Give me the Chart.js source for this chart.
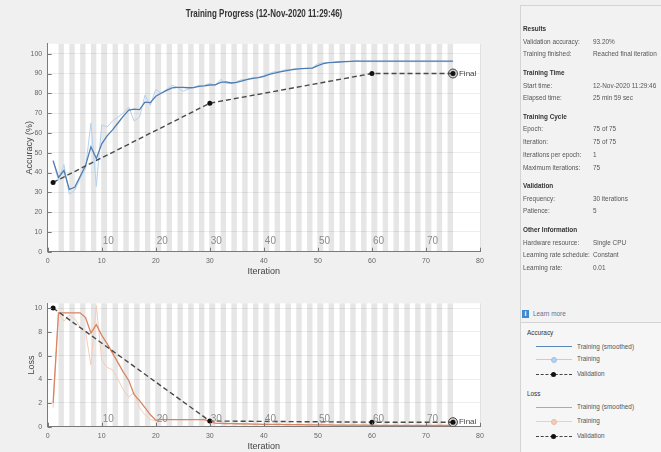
<!DOCTYPE html>
<html>
<head>
<meta charset="utf-8">
<title>Training Progress</title>
<script src="https://cdn.jsdelivr.net/npm/chart.js@4.4.1/dist/chart.umd.min.js"></script>
<style>
  html, body { margin: 0; padding: 0; background: #f0f0f0; }
  #page { position: relative; width: 661px; height: 452px; overflow: hidden; background: #f0f0f0;
          font-family: "Liberation Sans", Arial, sans-serif; color: #555; }
  canvas { position: absolute; left: 0; }
  #accChart { top: 0; }
  #lossChart { top: 280px; }
  .t { position: absolute; white-space: nowrap; line-height: 10px; height: 10px; font-size: 8px;
       transform: scaleX(0.8); transform-origin: 0 50%; }
  .h { font-weight: bold; color: #333; }
  .v { left: 593px; }
  .l { left: 523px; }
  #title { position: absolute; left: 264px; top: 8px; font-size: 10px; font-weight: bold; color: #333;
           white-space: nowrap; line-height: 12px; transform: translateX(-50%) scaleX(0.8); }
  #panel { position: absolute; left: 520px; top: 5px; width: 141px; height: 447px;
           border-left: 1px solid #d4d4d4; border-top: 1px solid #d4d4d4; background: #f2f2f2; }
  #legbox { position: absolute; left: 520px; top: 322px; width: 141px; height: 130px;
            border-left: 1px solid #d4d4d4; border-top: 1px solid #d4d4d4; background: #f6f6f6; }
  .ln { position: absolute; left: 536px; width: 36px; height: 0; }
  .dot { position: absolute; left: 551px; width: 5px; height: 5px; border-radius: 50%; }
  #info { position: absolute; left: 522px; top: 310px; width: 7px; height: 8px; background: #3d8ad0; color: #fff;
          font-size: 7px; line-height: 8px; text-align: center; font-weight: bold; }
</style>
</head>
<body>
<div id="page">
  <div id="panel"></div>
  <div id="legbox"></div>
  <canvas id="accChart" width="500" height="280"></canvas>
  <canvas id="lossChart" width="500" height="172"></canvas>
  <div id="title">Training Progress (12-Nov-2020 11:29:46)</div>

  <div class="t h l" style="top:24px">Results</div>
  <div class="t l" style="top:37px">Validation accuracy:</div><div class="t v" style="top:37px">93.20%</div>
  <div class="t l" style="top:49px">Training finished:</div><div class="t v" style="top:49px">Reached final iteration</div>
  <div class="t h l" style="top:68px">Training Time</div>
  <div class="t l" style="top:81px">Start time:</div><div class="t v" style="top:81px">12-Nov-2020 11:29:46</div>
  <div class="t l" style="top:93px">Elapsed time:</div><div class="t v" style="top:93px">25 min 59 sec</div>
  <div class="t h l" style="top:112px">Training Cycle</div>
  <div class="t l" style="top:124px">Epoch:</div><div class="t v" style="top:124px">75 of 75</div>
  <div class="t l" style="top:137px">Iteration:</div><div class="t v" style="top:137px">75 of 75</div>
  <div class="t l" style="top:150px">Iterations per epoch:</div><div class="t v" style="top:150px">1</div>
  <div class="t l" style="top:163px">Maximum iterations:</div><div class="t v" style="top:163px">75</div>
  <div class="t h l" style="top:181px">Validation</div>
  <div class="t l" style="top:194px">Frequency:</div><div class="t v" style="top:194px">30 iterations</div>
  <div class="t l" style="top:206px">Patience:</div><div class="t v" style="top:206px">5</div>
  <div class="t h l" style="top:225px">Other Information</div>
  <div class="t l" style="top:238px">Hardware resource:</div><div class="t v" style="top:238px">Single CPU</div>
  <div class="t l" style="top:250px">Learning rate schedule:</div><div class="t v" style="top:250px">Constant</div>
  <div class="t l" style="top:263px">Learning rate:</div><div class="t v" style="top:263px">0.01</div>

  <div id="info">i</div>
  <div class="t" style="left:533px;top:309px;color:#5d7391">Learn more</div>

  <div class="t h" style="left:527px;top:328px;font-weight:normal;color:#333">Accuracy</div>
  <div class="ln" style="top:346px;border-top:1.5px solid #5b86b8"></div>
  <div class="t" style="left:577px;top:342px">Training (smoothed)</div>
  <div class="ln" style="top:359px;border-top:1px solid #b3d2ee"></div>
  <div class="dot" style="top:357px;background:#b3d2ee;border:1px solid #9cc2e6;width:4px;height:4px"></div>
  <div class="t" style="left:577px;top:354px">Training</div>
  <div class="ln" style="top:374px;border-top:1.5px dashed #444"></div>
  <div class="dot" style="top:371.5px;background:#111"></div>
  <div class="t" style="left:577px;top:369px">Validation</div>

  <div class="t" style="left:527px;top:389px;color:#333">Loss</div>
  <div class="ln" style="top:407px;border-top:1.5px solid #dd9a7e"></div>
  <div class="t" style="left:577px;top:402px">Training (smoothed)</div>
  <div class="ln" style="top:421px;border-top:1px solid #f3cdb8"></div>
  <div class="dot" style="top:419px;background:#f3cdb8;border:1px solid #ebb99e;width:4px;height:4px"></div>
  <div class="t" style="left:577px;top:416px">Training</div>
  <div class="ln" style="top:436px;border-top:1.5px dashed #444"></div>
  <div class="dot" style="top:433.5px;background:#111"></div>
  <div class="t" style="left:577px;top:431px">Validation</div>
</div>

<script>
// iteration numbers (1 iteration per epoch)
const iterations = [1,2,3,4,5,6,7,8,9,10,11,12,13,14,15,16,17,18,19,20,21,22,23,24,25,26,27,28,29,30,
  31,32,33,34,35,36,37,38,39,40,41,42,43,44,45,46,47,48,49,50,51,52,53,54,55,56,57,58,59,60,
  61,62,63,64,65,66,67,68,69,70,71,72,73,74,75];

const accRaw = [46,36,44,29,31,37,42,65,33,64,63,66,68,70,73,66,68,79,74,82,80,82,84,83,81,82,83,84,84,85,
  84,87,85,85,86,87,87,88,88,89,90,91,91,92,92,92.5,92.5,92.6,93,95,95.5,95.5,96,96,96,96,96.5,96,96,96,
  96,96,96,96,96,96,96,96,96,96,96,96,96,96,96];
const accSmooth = [46,37.5,41,31.5,32.5,38,43.5,53,47,54.5,58.5,61.5,65,68.5,71.5,72,71.8,75.5,75.3,78.5,80,81.5,82.7,83,83,82.8,82.9,83.5,83.8,84.2,
  84.3,85.5,85.8,85.2,85.5,86.3,87,87.5,87.9,88.6,89.5,90.2,90.8,91.3,91.8,92.2,92.5,92.6,92.7,94,95,95.5,95.6,95.8,96,96.1,96.2,96.2,96.2,96.2,
  96.2,96.2,96.2,96.2,96.2,96.2,96.2,96.2,96.2,96.2,96.2,96.2,96.2,96.2,96.2];
const valIters = [1, 30, 60, 75];
const valAcc = [35, 75, 90, 90];

const lossRaw = [1.6,9.6,8.9,9.4,9.1,8.4,8.0,5.2,10.2,5.6,5.0,4.8,4.0,3.1,2.5,2.9,1.6,1.0,0.6,0.5,0.65,0.6,0.62,0.6,0.58,0.6,0.62,0.6,0.58,0.35,
  0.25,0.3,0.22,0.28,0.24,0.2,0.22,0.2,0.18,0.2,0.19,0.18,0.2,0.17,0.18,0.16,0.17,0.15,0.16,0.15,0.14,0.15,0.13,0.14,0.13,0.12,0.13,0.12,0.12,0.12,
  0.11,0.12,0.11,0.11,0.1,0.11,0.1,0.1,0.1,0.1,0.1,0.1,0.1,0.1,0.1];
const lossSmooth = [2.0,9.6,9.6,9.6,9.6,9.6,9.2,7.9,8.6,7.7,7.0,6.2,5.4,4.6,3.9,2.7,2.2,1.6,1.0,0.55,0.6,0.6,0.6,0.6,0.6,0.6,0.6,0.6,0.6,0.45,
  0.3,0.28,0.27,0.26,0.25,0.24,0.23,0.22,0.21,0.2,0.2,0.19,0.19,0.18,0.18,0.17,0.17,0.16,0.16,0.15,0.15,0.15,0.14,0.14,0.14,0.13,0.13,0.13,0.13,0.12,
  0.12,0.12,0.12,0.12,0.11,0.11,0.11,0.11,0.11,0.11,0.1,0.1,0.1,0.1,0.1];
const valLoss = [10, 0.48, 0.38, 0.38];

const accTicks = [0,10,20,30,40,50,60,70,80,90,100];
const lossTicks = [0,2,4,6,8,10];
const epochLabels = [10,20,30,40,50,60,70];
const shadedEpochs = [2,4,6,8,10,12,14,16,18,20,22,24,26,28,30,32,34,36,38,40,42,44,46,48,50,52,54,56,58,60,62,64,66,68,70,72,74];
const finalIter = 75;

const FONT = "'Liberation Sans Narrow', 'Liberation Sans', Arial, sans-serif";

const pts = (xs, ys) => xs.map((x, i) => ({x: x, y: ys[i]}));

const decor = {
  id: 'decor',
  beforeDraw(chart) {
    const {ctx, chartArea: a, scales: {x}} = chart;
    ctx.save();
    ctx.fillStyle = '#ffffff';
    ctx.fillRect(a.left, a.top, a.right - a.left, a.bottom - a.top);
    ctx.fillStyle = '#e6e6e6';
    shadedEpochs.forEach(e => {
      const x0 = x.getPixelForValue(e), x1 = x.getPixelForValue(e + 1);
      ctx.fillRect(x0, a.top, x1 - x0, a.bottom - a.top);
    });
    ctx.restore();
  },
  afterDatasetsDraw(chart, args, opts) {
    const {ctx, chartArea: a, scales: {x, y}} = chart;
    ctx.save();
    // epoch numbers inside the plot
    ctx.fillStyle = '#8c8c8c';
    ctx.font = '10px ' + FONT;
    ctx.textBaseline = 'middle';
    ctx.textAlign = 'left';
    epochLabels.forEach(e => ctx.fillText(String(e), x.getPixelForValue(e) + 1, a.bottom - opts.epochOffset));
    // inward tick marks
    ctx.strokeStyle = '#777';
    ctx.lineWidth = 1;
    ctx.beginPath();
    x.ticks.forEach(t => {
      const px = Math.round(x.getPixelForValue(t.value)) + 0.5;
      ctx.moveTo(px, a.bottom); ctx.lineTo(px, a.bottom - 4);
    });
    y.ticks.forEach(t => {
      const py = Math.round(y.getPixelForValue(t.value)) + 0.5;
      ctx.moveTo(a.left, py); ctx.lineTo(a.left + 4, py);
    });
    ctx.stroke();
    // "Final" label
    const fx = x.getPixelForValue(finalIter), fy = y.getPixelForValue(opts.finalValue);
    ctx.fillStyle = '#444';
    ctx.font = '8px ' + FONT;
    ctx.fillText('Final', fx + 6, fy);
    ctx.restore();
  }
};

function makeChart(id, cfg) {
  return new Chart(document.getElementById(id), {
    type: 'line',
    data: {
      datasets: [
        { data: pts(valIters, cfg.val), borderColor: '#4a4a4a', borderWidth: 1.4, borderDash: [5, 3],
          pointRadius: 2.5, pointBackgroundColor: '#111', pointBorderColor: '#111', pointBorderWidth: 0 },
        { data: pts([finalIter], [cfg.val[cfg.val.length - 1]]), showLine: false,
          pointRadius: 4.5, pointBackgroundColor: '#cfcfcf', pointBorderColor: '#444', pointBorderWidth: 1 },
        { data: pts(iterations, cfg.smooth), borderColor: cfg.smoothColor, borderWidth: 1.3, pointRadius: 0 },
        { data: pts(iterations, cfg.raw), borderColor: cfg.rawColor, borderWidth: 1, pointRadius: 0 }
      ]
    },
    options: {
      responsive: false,
      animation: false,
      layout: { padding: { top: cfg.top, right: 20, left: 0, bottom: 0 } },
      plugins: { legend: { display: false }, tooltip: { enabled: false },
                 decor: { epochOffset: cfg.epochOffset, finalValue: cfg.val[cfg.val.length - 1] } },
      scales: {
        x: {
          type: 'linear', min: 0, max: 80,
          ticks: { stepSize: 10, padding: 5.5, color: '#666', font: { size: 7, family: FONT } },
          grid: { color: 'rgba(0,0,0,0.06)', drawTicks: false },
          border: { color: '#7a7a7a' },
          title: { display: true, text: 'Iteration', color: '#444', font: { size: 9, family: FONT },
                   padding: { top: 0, bottom: cfg.xTitlePad } },
          afterFit: s => { s.height = cfg.xHeight; }
        },
        y: {
          min: 0, max: cfg.yMax,
          afterBuildTicks: s => { s.ticks = cfg.ticks.map(v => ({value: v})); },
          ticks: { padding: 5.5, color: '#666', font: { size: 7, family: FONT } },
          grid: { color: 'rgba(0,0,0,0.07)', drawTicks: false },
          border: { color: '#7a7a7a' },
          title: { display: true, text: cfg.yTitle, color: '#444', font: { size: 9, family: FONT },
                   padding: { top: cfg.yTitlePad, bottom: 0 } },
          afterFit: s => { s.width = 47.7; }
        }
      }
    },
    plugins: [decor]
  });
}

makeChart('accChart', {
  raw: accRaw, smooth: accSmooth, val: valAcc, ticks: accTicks, yMax: 105,
  smoothColor: '#4f7db3', rawColor: '#b3d2ee', yTitle: 'Accuracy (%)',
  top: 43.8, xHeight: 28.3, xTitlePad: 3, yTitlePad: 24, epochOffset: 10
});
makeChart('lossChart', {
  raw: lossRaw, smooth: lossSmooth, val: valLoss, ticks: lossTicks, yMax: 10.4,
  smoothColor: '#d98462', rawColor: '#f3cdb8', yTitle: 'Loss',
  top: 23.3, xHeight: 25.3, xTitlePad: 0, yTitlePad: 26, epochOffset: 7.5
});
</script>
</body>
</html>
